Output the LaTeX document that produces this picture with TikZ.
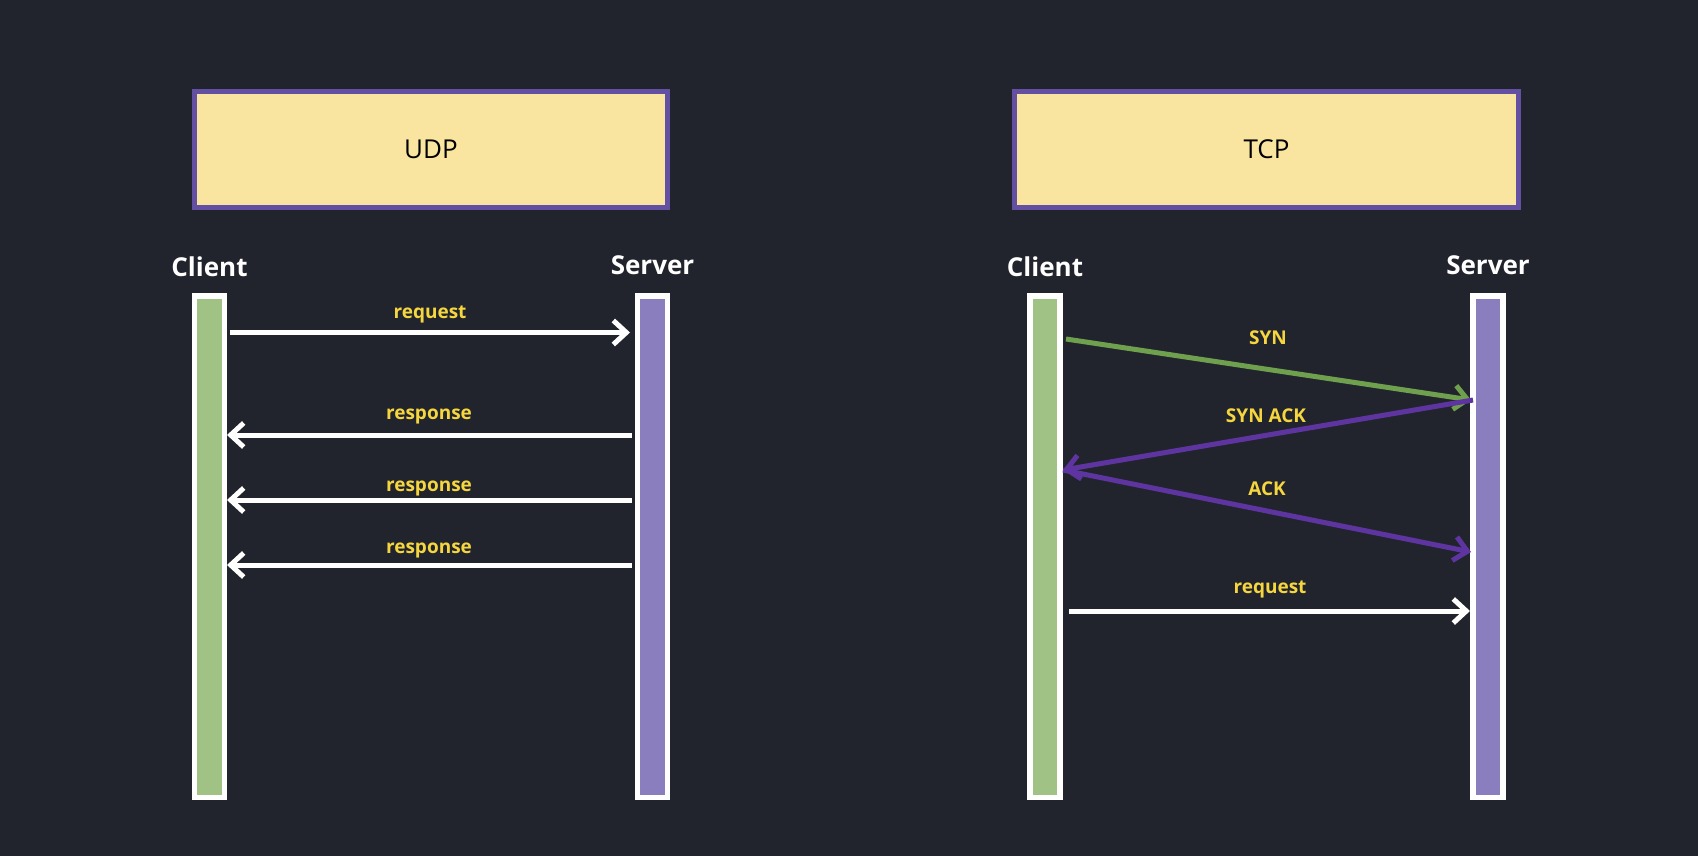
\documentclass[tikz,border=0pt]{standalone}
\usepackage{fontspec}
\setmainfont{Open Sans}
\usetikzlibrary{arrows.meta}
\definecolor{bg}{HTML}{22242D}
\definecolor{boxfill}{HTML}{FAE5A0}
\definecolor{boxline}{HTML}{6350A2}
\definecolor{cgreen}{HTML}{A0C385}
\definecolor{spurple}{HTML}{8B7EBE}
\definecolor{agreen}{HTML}{6EA04E}
\definecolor{apurple}{HTML}{5E35A0}
\definecolor{lblyellow}{HTML}{F5D63F}
\tikzset{
  titlebox/.style={draw=boxline, fill=boxfill, line width=5pt, minimum width=473pt, minimum height=116pt, inner sep=0pt, font=\fontsize{26}{30}\selectfont, text=black},
  lifebar/.style={draw=white, line width=5.5pt, minimum width=30pt, minimum height=501.5pt, inner sep=0pt},
  cbar/.style={lifebar, fill=cgreen},
  sbar/.style={lifebar, fill=spurple},
  actor/.style={text=white, font=\bfseries\fontsize{26}{30}\selectfont, inner sep=0pt},
  msg/.style={text=lblyellow, font=\bfseries\fontsize{19}{23}\selectfont, inner sep=0pt, anchor=base},
  conn/.style={line width=5pt, -{Straight Barb[length=13pt,width=24pt]}},
  wconn/.style={conn, draw=white},
  gconn/.style={conn, draw=agreen},
  pconn/.style={conn, draw=apurple},
}
\begin{document}
\begin{tikzpicture}[x=1pt,y=-1pt]
\fill[bg] (0,0) rectangle (1698,856);
\useasboundingbox (0,0) rectangle (1698,856);

% UDP
\node[titlebox] (udp) at (431,149.5) {UDP};
\node[actor] (uclient) at (209.5,267) {Client};
\node[actor] (userver) at (652.5,265) {Server};
\node[cbar] (ucbar) at (209.5,546.5) {};
\node[sbar] (usbar) at (652.5,546.5) {};

\coordinate (ur1a) at (230,332.5);
\coordinate (ur1b) at (630,332.5);
\coordinate (up1a) at (632,435);
\coordinate (up1b) at (227,435);
\coordinate (up2a) at (632,500);
\coordinate (up2b) at (227,500);
\coordinate (up3a) at (632,565);
\coordinate (up3b) at (227,565);

\draw[wconn] (ur1a) -- (ur1b);
\draw[wconn] (up1a) -- (up1b);
\draw[wconn] (up2a) -- (up2b);
\draw[wconn] (up3a) -- (up3b);

\node[msg] (ureq) at (430,318) {request};
\node[msg] (uresp1) at (429,419) {response};
\node[msg] (uresp2) at (429,491) {response};
\node[msg] (uresp3) at (429,553) {response};

% TCP
\node[titlebox, minimum width=504pt] (tcp) at (1266.5,149.5) {TCP};
\node[actor] (tclient) at (1045,267) {Client};
\node[actor] (tserver) at (1488,265) {Server};
\node[cbar] (tcbar) at (1045,546.5) {};
\node[sbar] (tsbar) at (1488,546.5) {};

\coordinate (syna) at (1066,339);
\coordinate (synb) at (1471,400);
\coordinate (sacka) at (1473,400);
\coordinate (sackb) at (1063,470);
\coordinate (acka) at (1063,470);
\coordinate (ackb) at (1471,552);
\coordinate (treqa) at (1069,611);
\coordinate (treqb) at (1470,611);

\draw[gconn] (syna) -- (synb);
\draw[pconn] (sacka) -- (sackb);
\draw[pconn] (acka) -- (ackb);
\draw[wconn] (treqa) -- (treqb);

\node[msg] (lsyn) at (1268,344) {SYN};
\node[msg] (lsack) at (1266,422) {SYN ACK};
\node[msg] (lack) at (1267,495) {ACK};
\node[msg] (ltreq) at (1270,593) {request};
\end{tikzpicture}
\end{document}
